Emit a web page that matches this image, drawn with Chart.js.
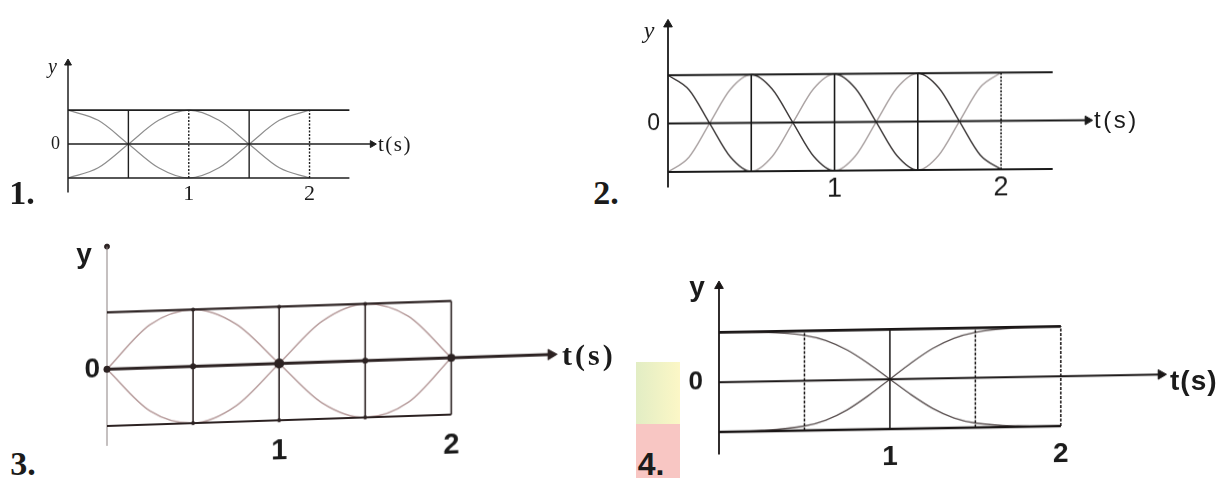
<!DOCTYPE html>
<html>
<head>
<meta charset="utf-8">
<script src="https://cdn.jsdelivr.net/npm/chart.js@4.4.1/dist/chart.umd.min.js"></script>
<style>
  html, body { margin:0; padding:0; background:#ffffff; }
  body { width:1219px; height:478px; position:relative; overflow:hidden; }
  .panel { position:absolute; }
  .panel canvas { display:block; }
  .lbl { position:absolute; white-space:nowrap; line-height:1; color:#1b1b1b; transform:translate(-50%,-50%); }
  .lft { transform:translate(0,-50%); }
</style>
</head>
<body>
<div style="position:absolute;left:636px;top:362px;width:44px;height:62px;background:linear-gradient(90deg,#e2edc4,#fcf7c6);"></div>
<div style="position:absolute;left:636px;top:424px;width:44px;height:54px;background:#f8c6c3;"></div>

<div class="panel" style="left:38px;top:56px;width:350px;height:152px;"><canvas id="c1"></canvas></div>
<div class="panel" style="left:638px;top:16px;width:471px;height:190px;transform:skewY(-0.45deg);transform-origin:30px 0;"><canvas id="c2"></canvas></div>
<div class="panel" style="left:77px;top:243px;width:502px;height:235px;transform:skewY(-1.9deg);transform-origin:30px 0;"><canvas id="c3"></canvas></div>
<div class="panel" style="left:689px;top:276px;width:498px;height:202px;transform:skewY(-1deg);transform-origin:30px 0;"><canvas id="c4"></canvas></div>

<!-- panel 1 texts -->
<div class="lbl" style="left:52.5px;top:66px;font:italic 20px 'Liberation Serif';">y</div>
<div class="lbl lft" style="left:378px;top:144px;font:21px 'Liberation Serif';letter-spacing:1.5px;">t(s)</div>
<div class="lbl" style="left:22px;top:193px;font:bold 34px 'Liberation Serif';">1.</div>
<!-- panel 2 texts -->
<div class="lbl" style="left:649px;top:30px;font:italic 24px 'Liberation Serif';">y</div>
<div class="lbl lft" style="left:1094px;top:120px;font:24px 'Liberation Sans';letter-spacing:2.5px;">t(s)</div>
<div class="lbl" style="left:606px;top:193px;font:bold 34px 'Liberation Serif';">2.</div>
<!-- panel 3 texts -->
<div class="lbl" style="left:84px;top:254px;font:bold 28px 'Liberation Sans';">y</div>
<div class="lbl lft" style="left:562px;top:355px;font:bold 30px 'Liberation Serif';letter-spacing:3px;">t(s)</div>
<div class="lbl" style="left:23px;top:464px;font:bold 34px 'Liberation Serif';">3.</div>
<!-- panel 4 texts -->
<div class="lbl" style="left:697px;top:287px;font:bold 28px 'Liberation Sans';">y</div>
<div class="lbl lft" style="left:1170px;top:381px;font:bold 28px 'Liberation Sans';letter-spacing:1px;">t(s)</div>
<div class="lbl" style="left:651px;top:464px;font:bold 32px 'Liberation Sans';">4.</div>

<script>
// ---------------- DATA ----------------
// Panel 1
const p1Time   = [0, 0.25, 0.5, 0.75, 1, 1.25, 1.5, 1.75, 2];
const p1CurveA = [1, 0.7, 0, -0.7, -1, -0.7, 0, 0.7, 1];
const p1CurveB = [-1, -0.7, 0, 0.7, 1, 0.7, 0, -0.7, -1];
const p1TickT  = [1, 2];
const p1TickY  = [0];
const p1GridT  = [0.5, 1, 1.5, 2];
const p1Levels = [1, -1];
const p1BoxEnd = 2.33, p1AxisEnd = 2.52, p1YAxis = [-1.43, 2.39];

// Panel 2
const p2Time   = [0, 0.125, 0.25, 0.375, 0.5, 0.625, 0.75, 0.875, 1, 1.125, 1.25, 1.375, 1.5, 1.625, 1.75, 1.875, 2];
const p2CurveA = [1, 0.7, 0, -0.7, -1, -0.7, 0, 0.7, 1, 0.7, 0, -0.7, -1, -0.7, 0, 0.7, 1];
const p2CurveB = [-1, -0.7, 0, 0.7, 1, 0.7, 0, -0.7, -1, -0.7, 0, 0.7, 1, 0.7, 0, -0.7, -1];
const p2TickT  = [1, 2];
const p2TickY  = [0];
const p2GridT  = [0.5, 1, 1.5, 2];
const p2Levels = [1, -1];
const p2BoxEnd = 2.31, p2AxisEnd = 2.52, p2YAxis = [-1.32, 2.05];

// Panel 3
const p3Time   = [0, 0.25, 0.5, 0.75, 1, 1.25, 1.5, 1.75, 2];
const p3CurveA = [0, 0.76, 1, 0.72, 0, -0.72, -1, -0.76, 0];
const p3CurveB = [0, -0.76, -1, -0.72, 0, 0.72, 1, 0.76, 0];
const p3TickT  = [1, 2];
const p3TickY  = [0];
const p3GridT  = [0.5, 1, 1.5, 2];
const p3Levels = [1, -1];
const p3BoxEnd = 2, p3AxisEnd = 2.58, p3YAxis = [-1.35, 2.16];
const p3DotT   = [0, 0.5, 1, 1.5, 2, 0.5, 1, 1.5, 0.5, 1, 1.5];
const p3DotY   = [0, 0, 0, 0, 0, 1, 1, 1, -1, -1, -1];

// Panel 4
const p4Time   = [0, 0.25, 0.5, 0.625, 0.75, 0.875, 1, 1.125, 1.25, 1.375, 1.5, 1.75, 2];
const p4CurveA = [1, 0.985, 0.91, 0.8, 0.6, 0.32, 0, -0.32, -0.6, -0.8, -0.91, -0.985, -1];
const p4CurveB = [-1, -0.985, -0.91, -0.8, -0.6, -0.32, 0, 0.32, 0.6, 0.8, 0.91, 0.985, 1];
const p4TickT  = [1, 2];
const p4TickY  = [0];
const p4GridT  = [0.5, 1, 1.5, 2];
const p4Levels = [1, -1];
const p4BoxEnd = 2, p4AxisEnd = 2.586, p4YAxis = [-1.45, 1.93];

// ---------------- HELPERS ----------------
function pts(xs, ys) { return xs.map((x, i) => ({ x: x, y: ys[i] })); }
function seg(x1, y1, x2, y2, color, width, dash) {
  return { data: [{ x: x1, y: y1 }, { x: x2, y: y2 }], borderColor: color, borderWidth: width,
           borderDash: dash || [], pointRadius: 0, clip: false, tension: 0, fill: false };
}
function arrow(x, y, rot, color, r, style) {
  return { data: [{ x: x, y: y }], pointStyle: style || 'triangle', rotation: rot, pointRadius: r,
           backgroundColor: color, borderColor: color, borderWidth: 1, showLine: false, clip: false };
}
function curve(xs, ys, color, width, segment) {
  const d = { data: pts(xs, ys), borderColor: color, borderWidth: width, pointRadius: 0,
              cubicInterpolationMode: 'monotone', clip: false, fill: false };
  if (segment) d.segment = segment;
  return d;
}
function frame(gridT, levels, boxEnd, axisEnd, yAxis, st) {
  const sets = [];
  levels.forEach(l => sets.push(seg(0, l, boxEnd, l, st.box, st.boxW)));
  sets.push(seg(0, 0, axisEnd, 0, st.zero, st.zeroW));
  gridT.forEach((t, i) => sets.push(seg(t, levels[1], t, levels[0], st.grid, st.gridW, st.dash ? st.dash[i] : [])));
  sets.push(seg(0, yAxis[0], 0, yAxis[1], st.axis, st.axisW));
  return sets;
}
function noPad(s) { s.paddingLeft = 0; s.paddingRight = 0; s.paddingTop = 0; s.paddingBottom = 0; }
function makeChart(id, w, h, o) {
  const cv = document.getElementById(id);
  cv.width = w; cv.height = h;
  cv.style.width = w + 'px'; cv.style.height = h + 'px';
  return new Chart(cv, {
    type: 'line',
    data: { datasets: o.datasets },
    options: {
      responsive: false, animation: false, events: [], devicePixelRatio: 1,
      layout: { padding: { left: 0, right: o.pr, top: 0, bottom: 0 } },
      plugins: { legend: { display: false }, tooltip: { enabled: false }, title: { display: false } },
      scales: {
        x: { type: 'linear', min: 0, max: o.xmax, position: 'bottom',
             grid: { display: false, drawTicks: false }, border: { display: false },
             afterBuildTicks: s => { s.ticks = o.tickT.map(v => ({ value: v })); },
             afterFit: s => { s.height = o.pb; noPad(s); },
             ticks: { color: '#1b1b1b', font: o.fontX, padding: o.padX, autoSkip: false, maxRotation: 0, minRotation: 0,
                      callback: v => String(v) } },
        y: { type: 'linear', min: -1, max: o.ymax, position: 'left',
             grid: { display: false, drawTicks: false }, border: { display: false },
             afterBuildTicks: s => { s.ticks = o.tickY.map(v => ({ value: v })); },
             afterFit: s => { s.width = o.pl; noPad(s); },
             ticks: { color: '#1b1b1b', font: o.fontY, padding: o.padY, autoSkip: false,
                      callback: v => String(v) } }
      }
    }
  });
}

// ---------------- PANEL 1 ----------------
const k1 = '#1f1f1f';
makeChart('c1', 350, 152, {
  pl: 30, pr: 6, pb: 30, xmax: 2.6, ymax: 2.45,
  tickT: p1TickT, tickY: p1TickY,
  fontX: { family: 'Liberation Serif', size: 22 }, padX: 3,
  fontY: { family: 'Liberation Serif', size: 18 }, padY: 8,
  datasets: [
    ...frame(p1GridT, p1Levels, p1BoxEnd, p1AxisEnd, p1YAxis,
      { box: k1, boxW: 1.6, zero: k1, zeroW: 1.5, grid: k1, gridW: 1.4, axis: k1, axisW: 1.5,
        dash: [[], [2, 1.5], [], [2, 1.5]] }),
    arrow(p1AxisEnd, 0, 90, k1, 4),
    arrow(0, p1YAxis[1], 0, k1, 4),
    curve(p1Time, p1CurveA, '#8e8e8e', 1.2),
    curve(p1Time, p1CurveB, '#8e8e8e', 1.2)
  ]
});

// ---------------- PANEL 2 ----------------
const k2 = '#1a1a1a';
const p2Seg = { borderColor: c => (c.p1.parsed.y < c.p0.parsed.y ? '#3c3838' : '#aaa2a2') };
makeChart('c2', 471, 190, {
  pl: 30, pr: 8, pb: 34, xmax: 2.6, ymax: 2.1,
  tickT: p2TickT, tickY: p2TickY,
  fontX: { family: 'Liberation Sans', size: 27 }, padX: 2,
  fontY: { family: 'Liberation Sans', size: 23 }, padY: 8,
  datasets: [
    ...frame(p2GridT, p2Levels, p2BoxEnd, p2AxisEnd, p2YAxis,
      { box: k2, boxW: 2, zero: k2, zeroW: 2, grid: k2, gridW: 1.6, axis: k2, axisW: 1.8,
        dash: [[], [], [], [2, 1.5]] }),
    arrow(p2AxisEnd, 0, 90, k2, 5),
    arrow(0, p2YAxis[1], 0, k2, 5),
    curve(p2Time, p2CurveA, '#555', 1.4, p2Seg),
    curve(p2Time, p2CurveB, '#555', 1.4, p2Seg)
  ]
});

// ---------------- PANEL 3 ----------------
const k3 = '#2c2222';
makeChart('c3', 502, 235, {
  pl: 30, pr: 6, pb: 52, xmax: 2.7, ymax: 2.1,
  tickT: p3TickT, tickY: p3TickY,
  fontX: { family: 'Liberation Sans', size: 29, weight: 'bold' }, padX: 14,
  fontY: { family: 'Liberation Sans', size: 28, weight: 'bold' }, padY: 7,
  datasets: [
    { data: pts(p3DotT, p3DotY), showLine: false, pointRadius: [3.5, 3, 5, 3, 4, 2, 2, 2, 2, 2, 2],
      backgroundColor: k3, borderColor: k3, borderWidth: 0, clip: false },
    ...frame(p3GridT, p3Levels, p3BoxEnd, p3AxisEnd, p3YAxis,
      { box: k3, boxW: 2.2, zero: k3, zeroW: 3, grid: k3, gridW: 1.6, axis: '#8a8080', axisW: 1 }),
    arrow(p3AxisEnd, 0, 90, k3, 6),
    arrow(0, p3YAxis[1], 0, k3, 2.5, 'circle'),
    curve(p3Time, p3CurveA, '#b79c9c', 1.5),
    curve(p3Time, p3CurveB, '#b79c9c', 1.5)
  ]
});

// ---------------- PANEL 4 ----------------
const k4 = '#1a1616';
makeChart('c4', 498, 202, {
  pl: 30, pr: 6, pb: 46, xmax: 2.7, ymax: 2.0,
  tickT: p4TickT, tickY: p4TickY,
  fontX: { family: 'Liberation Sans', size: 28, weight: 'bold' }, padX: 11,
  fontY: { family: 'Liberation Sans', size: 26, weight: 'bold' }, padY: 16,
  datasets: [
    ...frame(p4GridT, p4Levels, p4BoxEnd, p4AxisEnd, p4YAxis,
      { box: k4, boxW: 2.6, zero: k4, zeroW: 2, grid: k4, gridW: 1.5, axis: k4, axisW: 1.8,
        dash: [[3, 1.5], [], [3, 1.5], [3, 1.5]] }),
    arrow(p4AxisEnd, 0, 90, k4, 5.5),
    arrow(0, p4YAxis[1], 0, k4, 5),
    curve(p4Time, p4CurveA, '#5a5050', 1.3),
    curve(p4Time, p4CurveB, '#5a5050', 1.3)
  ]
});
</script>
</body>
</html>
